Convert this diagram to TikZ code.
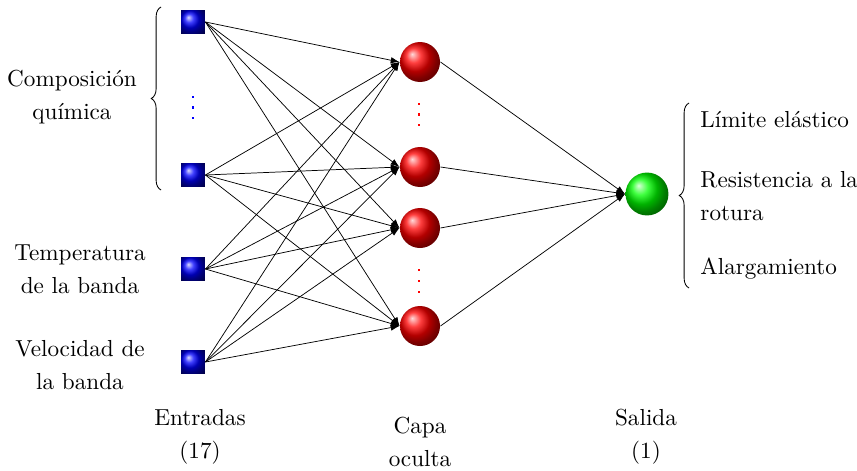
\documentclass[tikz,border=0pt]{standalone}
\usetikzlibrary{shadings,decorations.pathreplacing,arrows.meta}
\begin{document}
\begin{tikzpicture}[x=0.41pt,y=-0.41pt,
  font=\fontsize{9.5}{12}\selectfont,
  inputbox/.style={rectangle,minimum size=9.8pt,inner sep=0pt,shading=ball,ball color=blue},
  hidden/.style={circle,minimum size=16.4pt,inner sep=0pt,shading=ball,ball color=red},
  outnode/.style={circle,minimum size=17.6pt,inner sep=0pt,shading=ball,ball color=green},
  dotmark/.style={rectangle,minimum size=1pt,inner sep=0pt,fill=#1},
  link/.style={-{Latex[length=3.6pt,width=2.6pt]},line width=0.3pt},
  bracestyle/.style={decorate,decoration={brace,amplitude=4pt},line width=0.35pt},
  label/.style={align=center,inner sep=0pt}]
\useasboundingbox (0,0) rectangle (857,471);

% input layer
\node[inputbox] (i1) at (193,22) {};
\node[inputbox] (i2) at (193,175) {};
\node[inputbox] (i3) at (193,269) {};
\node[inputbox] (i4) at (193,362) {};
\node[dotmark=blue] (id1) at (193,97) {};
\node[dotmark=blue] (id2) at (193,107.5) {};
\node[dotmark=blue] (id3) at (193,118) {};

% hidden layer
\node[hidden] (h1) at (420,62) {};
\node[hidden] (h2) at (420,167) {};
\node[hidden] (h3) at (420,228) {};
\node[hidden] (h4) at (420,326) {};
\node[dotmark=red] (ha1) at (419,104) {};
\node[dotmark=red] (ha2) at (419,114.5) {};
\node[dotmark=red] (ha3) at (419,125) {};
\node[dotmark=red] (hb1) at (419,270) {};
\node[dotmark=red] (hb2) at (419,281) {};
\node[dotmark=red] (hb3) at (419,292) {};

% output layer
\node[outnode] (o) at (647,194) {};

% connections
\foreach \i in {1,...,4}
  \foreach \h in {1,...,4}
    \draw[link] (i\i.east) -- (h\h.west);
\foreach \h in {1,...,4}
  \draw[link] (h\h.east) -- (o.west);

% braces
\coordinate (lb1) at (161,190);
\coordinate (lb2) at (161,7);
\draw[bracestyle] (lb1) -- (lb2);
\coordinate (rb1) at (689,288);
\coordinate (rb2) at (689,103);
\draw[bracestyle] (rb1) -- (rb2);

% input labels
\node[label] (lcomp) at (72,97) {Composición\\[1.5pt]química};
\node[label] (ltemp) at (80,269) {Temperatura\\[1.5pt]de la banda};
\node[label] (lvel) at (80,365) {Velocidad de\\[1.5pt]la banda};

% output labels
\node[anchor=west,inner sep=0pt] (r1) at (700,120) {Límite elástico};
\node[anchor=west,inner sep=0pt,align=left] (r2) at (700,196) {Resistencia a la\\[1.5pt]rotura};
\node[anchor=west,inner sep=0pt] (r3) at (700,269) {Alargamiento};

% layer captions
\node[label] (cin) at (200,437) {Entradas\\[1.5pt](17)};
\node[label] (chid) at (420,442) {Capa\\[1.5pt]oculta};
\node[label] (cout) at (646,437) {Salida\\[1.5pt](1)};
\end{tikzpicture}
\end{document}
